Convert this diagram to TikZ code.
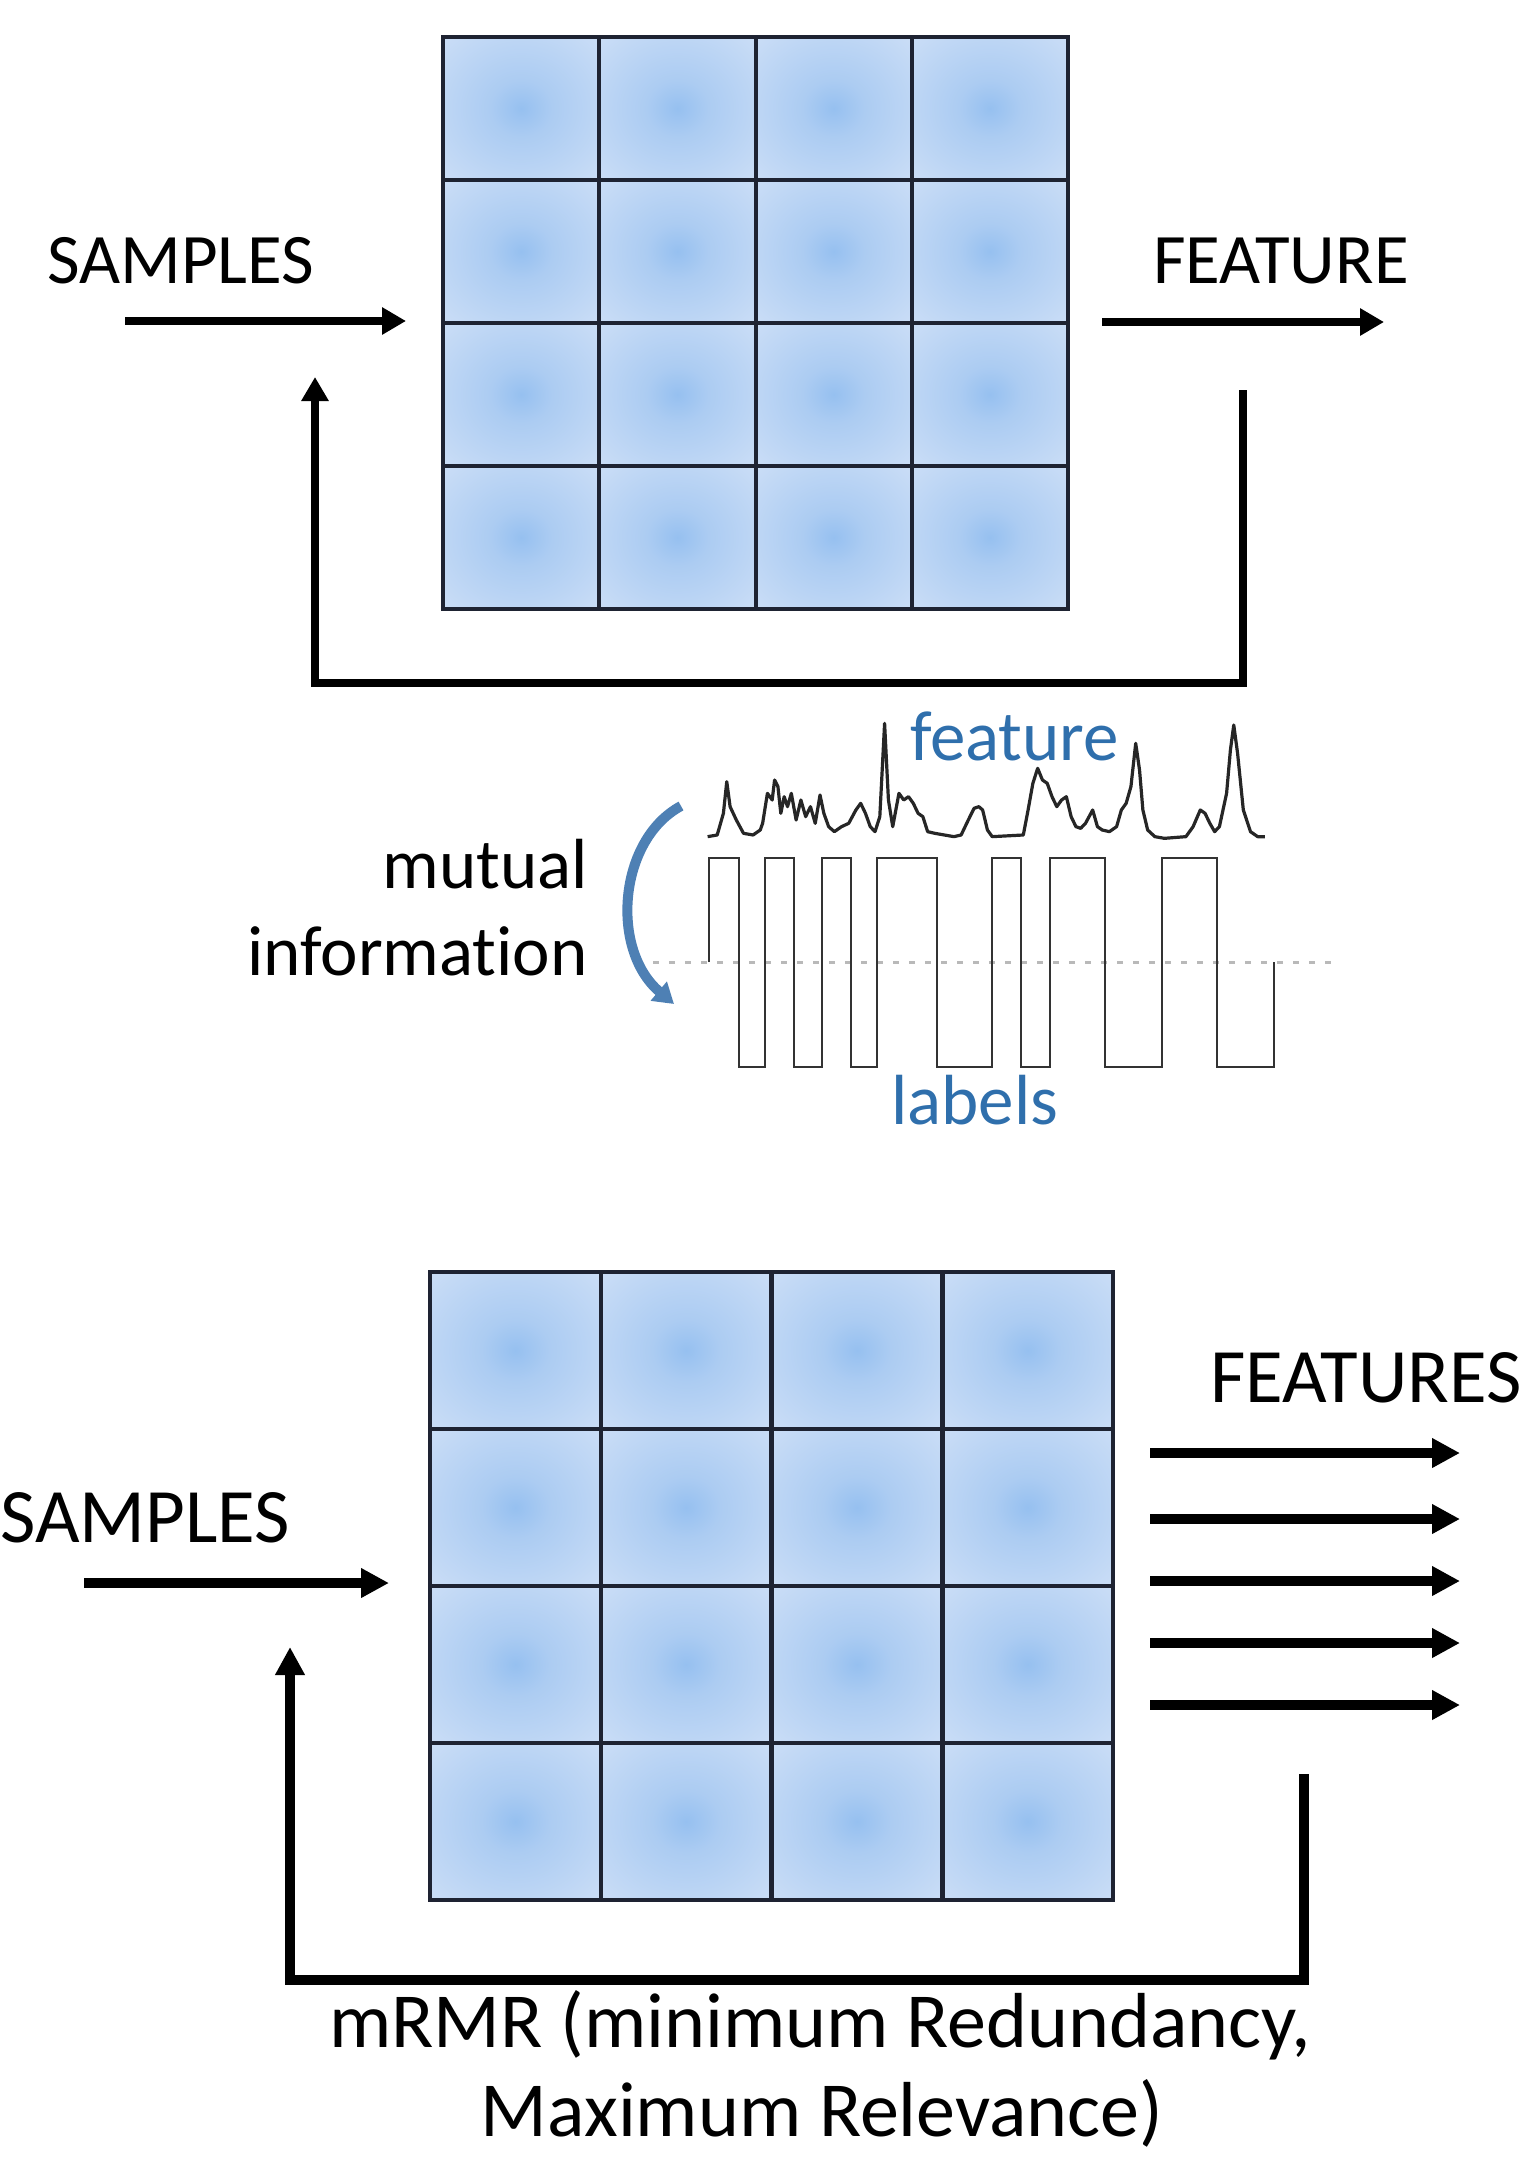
\documentclass[tikz,border=0pt]{standalone}
\usepackage{fontspec}
\setmainfont{Carlito}[Ligatures=NoCommon]
\usetikzlibrary{arrows.meta}

\definecolor{cellin}{RGB}{150,192,240}
\definecolor{cellmid}{RGB}{172,204,242}
\definecolor{cellout}{RGB}{214,228,248}
\definecolor{gridc}{RGB}{30,35,50}
\definecolor{sigblue}{RGB}{47,111,172}
\definecolor{arcblue}{RGB}{78,128,180}
\pgfdeclareradialshading{cellglow}{\pgfpoint{0bp}{0bp}}{color(0bp)=(cellin); color(10bp)=(cellmid); color(45bp)=(cellout); color(75bp)=(cellout)}

\begin{document}
\begin{tikzpicture}[x=1pt, y=-1pt,
	every node/.style={inner sep=0pt},
	txt/.style={font=\fontsize{71}{85}\selectfont, anchor=base west},
	bigtxt/.style={font=\fontsize{77}{92}\selectfont, anchor=base west},
	flow/.style={line width=8pt, -{Triangle[length=24pt,width=26pt]}},
	flowbig/.style={line width=9.5pt, -{Triangle[length=28pt,width=28pt]}},
	cell/.style={shading=cellglow, draw=gridc, line width=4pt},
	sig/.style={line width=3.2pt, line join=round, black!85},
	wave/.style={line width=2.8pt, black!80}]
	\useasboundingbox (0,0) rectangle (1521,2157);

	% upper matrix
	\foreach \c in {0,...,3}
		\foreach \r in {0,...,3}
			\shadedraw[cell] (443+156.25*\c, 37+143*\r) rectangle ++(156.25,143);
	\node[txt] (samplesA) at (47,283) {SAMPLES};
	\node[txt] (featureA) at (1153,283) {FEATURE};
	\coordinate (inA) at (125,321);
	\coordinate (inAend) at (406,321);
	\coordinate (outA) at (1102,322);
	\coordinate (outAend) at (1384,322);
	\draw[flow] (inA) -- (inAend);
	\draw[flow] (outA) -- (outAend);
	\coordinate (loopA) at (1243,390);
	\coordinate (loopAlow) at (780,683);
	\coordinate (loopAend) at (315,377);
	\draw[flow] (loopA) |- (loopAlow) -| (loopAend);

	% feature against labels
	\draw[gray!55, line width=3pt, dash pattern=on 6pt off 10pt] (653,962) -- (1332,962);
	\draw[wave] (709,962) -- (709,858) -- (739,858) -- (739,1067) -- (765,1067) -- (765,858)
		-- (794,858) -- (794,1067) -- (822,1067) -- (822,858) -- (851,858) -- (851,1067)
		-- (877,1067) -- (877,858) -- (937,858) -- (937,1067) -- (992,1067) -- (992,858)
		-- (1021,858) -- (1021,1067) -- (1050,1067) -- (1050,858) -- (1105,858) -- (1105,1067)
		-- (1162,1067) -- (1162,858) -- (1217,858) -- (1217,1067) -- (1274,1067) -- (1274,962);
	\begin{scope}[shift={(600,700)}, x=0.4783pt, y=-0.3333pt]
		\draw[sig] (225,410) -- (245,405) -- (258,340) -- (265,245) -- (272,320) -- (285,360)
			-- (300,400) -- (320,405) -- (335,390) -- (340,370) -- (350,280) -- (360,300)
			-- (365,240) -- (372,260) -- (378,340) -- (385,290) -- (392,320) -- (400,280)
			-- (410,360) -- (420,300) -- (430,350) -- (440,320) -- (450,370) -- (460,285)
			-- (468,340) -- (478,380) -- (490,395) -- (505,380) -- (520,370) -- (535,330)
			-- (545,310) -- (555,340) -- (565,380) -- (575,395) -- (585,350) -- (595,70)
			-- (603,300) -- (612,380) -- (625,280) -- (635,300) -- (645,290) -- (655,310)
			-- (665,340) -- (675,350) -- (685,395) -- (700,400) -- (720,405) -- (740,410)
			-- (755,405) -- (770,360) -- (782,325) -- (792,320) -- (800,330) -- (810,390)
			-- (820,410) -- (885,405) -- (895,330) -- (905,250) -- (915,205) -- (925,240)
			-- (935,250) -- (945,290) -- (955,320) -- (965,300) -- (975,290) -- (985,350)
			-- (995,380) -- (1005,385) -- (1015,370) -- (1030,330) -- (1040,380) -- (1050,390)
			-- (1065,395) -- (1080,380) -- (1090,330) -- (1100,310) -- (1110,260) -- (1120,130)
			-- (1128,210) -- (1135,330) -- (1145,390) -- (1160,410) -- (1180,415) -- (1225,410)
			-- (1240,380) -- (1255,330) -- (1265,340) -- (1275,370) -- (1285,395) -- (1295,380)
			-- (1310,280) -- (1318,150) -- (1325,75) -- (1333,160) -- (1345,330) -- (1360,395)
			-- (1375,410) -- (1390,410);
	\end{scope}
	\node[txt, text=sigblue] (featTxt) at (910,760) {feature};
	\node[txt, text=sigblue] (labTxt) at (891,1124) {labels};
	\node[txt, anchor=base east] (mutual) at (588,888) {mutual};
	\node[txt, anchor=base east] (info) at (588,975) {information};
	\coordinate (arcTop) at (681,806);
	\coordinate (arcEnd) at (674,1004);
	\draw[arcblue, line width=10pt, -{Triangle[length=20pt,width=24pt]}]
		(arcTop) .. controls (618,840) and (610,950) .. (arcEnd);

	% lower matrix
	\foreach \c in {0,...,3}
		\foreach \r in {0,...,3}
			\shadedraw[cell, line width=4.5pt] (430+170.75*\c, 1272+157*\r) rectangle ++(170.75,157);
	\node[bigtxt] (samplesB) at (0,1542) {SAMPLES};
	\node[bigtxt] (featuresB) at (1210,1402) {FEATURES};
	\coordinate (inB) at (84,1583);
	\coordinate (inBend) at (389,1583);
	\draw[flowbig] (inB) -- (inBend);
	\foreach \y [count=\k] in {1453,1519,1581,1643,1705} {
		\coordinate (outB\k) at (1150,\y);
		\coordinate (outBend\k) at (1460,\y);
		\draw[flowbig] (outB\k) -- (outBend\k);
	}
	\coordinate (loopB) at (1304,1774);
	\coordinate (loopBlow) at (800,1980);
	\coordinate (loopBend) at (290,1647);
	\draw[flowbig] (loopB) |- (loopBlow) -| (loopBend);
	\node[bigtxt, font=\fontsize{78}{94}\selectfont, anchor=base] (mrmrA) at (820,2047) {mRMR (minimum Redundancy,};
	\node[bigtxt, font=\fontsize{78}{94}\selectfont, anchor=base] (mrmrB) at (822,2136) {Maximum Relevance)};
\end{tikzpicture}
\end{document}
